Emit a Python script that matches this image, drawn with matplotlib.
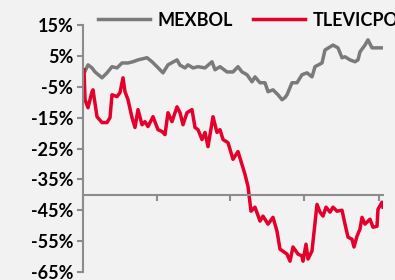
import matplotlib
matplotlib.use('Agg')
import matplotlib.pyplot as plt

# day index (0..300 across the axis) and % change
mex_x = [2, 5, 9, 12, 19, 24, 29, 34, 39, 45, 50, 55, 64, 69, 74, 80, 85, 94, 97, 102,
         105, 110, 115, 122, 129, 132, 137, 144, 150, 155, 159, 164, 169, 172, 177, 182,
         185, 190, 195, 199, 202, 204, 209, 214, 219, 224, 229, 232, 239, 242, 247, 250,
         255, 259, 262, 267, 272, 275, 277, 282, 285, 289, 294, 299]
mex_y = [0.0, 2.1, 1.1, -0.2, -2.1, -0.5, 1.5, 1.1, 2.7, 2.7, 3.1, 3.7, 4.4, 3.1, 1.5,
         -0.5, 2.1, 3.7, 2.0, 1.1, 2.1, 1.1, 1.5, 1.1, 3.1, 0.5, 1.5, -0.2, -0.2, 1.5,
         -0.2, -1.1, -3.4, -1.8, -3.7, -3.7, -6.6, -6.0, -7.6, -9.2, -8.5, -7.6, -3.7,
         -3.7, -1.1, -0.5, -1.8, 1.5, 2.7, 6.9, 7.9, 8.5, 7.6, 4.4, 4.7, 3.7, 3.1, 3.7,
         6.3, 8.5, 10.2, 7.6, 7.6, 7.6]

tlv_x = [1, 2, 5, 9, 10, 14, 19, 24, 27, 29, 34, 37, 40, 42, 45, 49, 52, 55, 59, 62,
         65, 70, 75, 79, 82, 85, 89, 94, 97, 100, 104, 109, 112, 115, 119, 122, 125, 130,
         134, 137, 140, 145, 150, 155, 159, 162, 165, 168, 172, 177, 180, 185, 190, 194,
         197, 204, 207, 210, 215, 219, 220, 223, 225, 229, 234, 237, 240, 243, 247, 250,
         254, 259, 262, 265, 269, 271, 274, 277, 279, 282, 287, 290, 294, 295, 299, 300]
tlv_y = [0.5, -9.2, -11.8, -6.6, -6.0, -14.7, -16.6, -16.6, -15.0, -7.6, -8.2, -6.9,
         -2.1, -6.6, -9.2, -15.0, -18.2, -12.4, -17.3, -16.3, -17.9, -14.7, -18.9, -19.5,
         -20.5, -13.4, -16.3, -11.5, -13.4, -17.3, -13.4, -12.4, -18.2, -18.9, -22.1,
         -19.8, -24.4, -14.7, -19.8, -18.9, -22.1, -23.1, -28.5, -26.0, -30.2, -33.4,
         -37.3, -45.3, -44.0, -48.5, -46.9, -49.5, -47.3, -51.8, -57.6, -59.2, -61.5,
         -56.9, -59.2, -59.8, -61.5, -56.0, -60.8, -58.2, -43.1, -45.6, -46.9, -44.0,
         -45.6, -44.0, -45.3, -45.0, -49.5, -53.7, -54.4, -56.9, -53.4, -51.1, -47.3,
         -49.5, -47.9, -50.5, -50.2, -44.7, -42.4, -44.0]

y_ticks = [15, 5, -5, -15, -25, -35, -45, -55, -65]
x_ticks = [0, 74, 147, 221, 296]

bg = '#f2f2f2'
grey = '#7a7a7a'
red = '#e4002b'
axis_grey = '#8c8c8c'

fig = plt.figure(figsize=(3.95, 2.8), dpi=100, facecolor=bg)
ax = fig.add_axes([83 / 395, 8 / 280, 300 / 395, 247 / 280], facecolor=bg)

ax.plot(mex_x, mex_y, color=grey, lw=2.5, label='MEXBOL', solid_joinstyle='round')
ax.plot(tlv_x, tlv_y, color=red, lw=2.5, label='TLEVICPO', solid_joinstyle='round')

ax.set_xlim(0, 300)
ax.set_ylim(-65, 15)
ax.set_yticks(y_ticks)
ax.set_yticklabels([f'{v}%' for v in y_ticks])
ax.set_xticks(x_ticks)
ax.set_xticklabels([])

for s in ['top', 'right']:
    ax.spines[s].set_visible(False)
ax.spines['bottom'].set_position(('data', -40))
for s in ['left', 'bottom']:
    ax.spines[s].set_color(axis_grey)
    ax.spines[s].set_linewidth(1.5)
ax.tick_params(axis='both', direction='out', length=4, width=1.5, color=axis_grey)
for lab in ax.get_yticklabels():
    lab.set_fontfamily('Lato')
    lab.set_fontweight('bold')
    lab.set_fontsize(13)
ax.tick_params(axis='y', pad=3)

fig.legend(loc='center left', bbox_to_anchor=(98 / 395, 1 - 20 / 280), ncol=2,
           frameon=False, borderpad=0, borderaxespad=0, handlelength=2.9,
           handletextpad=0.4, columnspacing=1.1,
           prop={'family': 'Lato', 'weight': 'bold', 'size': 13})

fig.savefig('out.png', dpi=100, facecolor=bg)
